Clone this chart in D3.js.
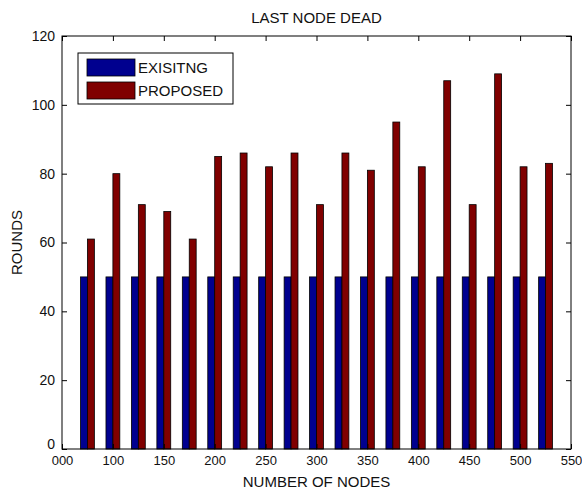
<!DOCTYPE html>
<html>
<head>
<meta charset="utf-8">
<script src="https://cdn.jsdelivr.net/npm/d3@7"></script>
<style>
  html, body { margin: 0; padding: 0; background: #fff; }
  svg { display: block; font-family: Arial, "Liberation Sans", sans-serif; }
</style>
</head>
<body>
<svg id="chart" width="582" height="490"></svg>
<script>
// ---- data ----
var nodes = [75, 100, 125, 150, 175, 200, 225, 250, 275, 300, 325, 350, 375, 400, 425, 450, 475, 500, 525];
var existing = [50, 50, 50, 50, 50, 50, 50, 50, 50, 50, 50, 50, 50, 50, 50, 50, 50, 50, 50];
var proposed = [61, 80, 71, 69, 61, 85, 86, 82, 86, 71, 86, 81, 95, 82, 107, 71, 109, 82, 83];
var xTicks = [50, 100, 150, 200, 250, 300, 350, 400, 450, 500, 550];
var xTickLabels = ['000', '100', '150', '200', '250', '300', '350', '400', '450', '500', '550'];
var yTicks = [0, 20, 40, 60, 80, 100, 120];
var seriesNames = ['EXISITNG', 'PROPOSED'];
var seriesColors = ['#00008f', '#800000'];

// ---- layout ----
var box = { left: 62, right: 571, top: 36, bottom: 449 };
var barUnits = 6.8; // width of one bar in x-data units

var svg = d3.select('#chart');

var x = d3.scaleLinear().domain([50, 550]).range([box.left, box.right]);
var y = d3.scaleLinear().domain([0, 120]).range([box.bottom, box.top]);

// bars
var barW = x(50 + barUnits) - x(50);
[existing, proposed].forEach(function (vals, s) {
    svg.append('g')
        .selectAll('rect')
        .data(nodes)
        .enter().append('rect')
        .attr('x', function (d) { return s === 0 ? x(d) - barW : x(d); })
        .attr('y', function (d, i) { return y(vals[i]); })
        .attr('width', barW)
        .attr('height', function (d, i) { return y(0) - y(vals[i]); })
        .attr('fill', seriesColors[s])
        .attr('stroke', '#000')
        .attr('stroke-width', 0.8);
});

// axes (MATLAB style: ticks inward on all four sides)
var tickLen = 5;
var gBottom = svg.append('g').attr('transform', 'translate(0,' + box.bottom + ')')
    .call(d3.axisBottom(x).tickValues(xTicks)
        .tickFormat(function (d, i) { return xTickLabels[i]; })
        .tickSizeInner(-tickLen).tickSizeOuter(0).tickPadding(8));
var gTop = svg.append('g').attr('transform', 'translate(0,' + box.top + ')')
    .call(d3.axisTop(x).tickValues(xTicks).tickFormat('')
        .tickSizeInner(-tickLen).tickSizeOuter(0));
var gLeft = svg.append('g').attr('transform', 'translate(' + box.left + ',0)')
    .call(d3.axisLeft(y).tickValues(yTicks)
        .tickSizeInner(-tickLen).tickSizeOuter(0).tickPadding(7));
var gRight = svg.append('g').attr('transform', 'translate(' + box.right + ',0)')
    .call(d3.axisRight(y).tickValues(yTicks).tickFormat('')
        .tickSizeInner(-tickLen).tickSizeOuter(0));

[gBottom, gTop, gLeft, gRight].forEach(function (g) {
    g.select('.domain').remove();
    g.selectAll('line').attr('stroke', '#000');
    g.selectAll('text').attr('fill', '#111').style('font-size', '14px')
        .style('font-family', 'Arial, "Liberation Sans", sans-serif');
});
gBottom.selectAll('text').attr('dy', '0.6em').style('font-size', '13px');
// the "0" sits just above the first x label, as in the original
gLeft.selectAll('.tick').filter(function (d) { return d === 0; })
    .select('text').attr('dy', '-0.05em');

// frame
svg.append('rect')
    .attr('x', box.left).attr('y', box.top)
    .attr('width', box.right - box.left).attr('height', box.bottom - box.top)
    .attr('fill', 'none').attr('stroke', '#000').attr('stroke-width', 1);

// title and axis labels
svg.append('text')
    .attr('x', (box.left + box.right) / 2).attr('y', 23)
    .attr('text-anchor', 'middle').style('font-size', '15px').attr('fill', '#111')
    .text('LAST NODE DEAD');

svg.append('text')
    .attr('x', (box.left + box.right) / 2).attr('y', 487)
    .attr('text-anchor', 'middle').style('font-size', '15px').attr('fill', '#111')
    .text('NUMBER OF NODES');

svg.append('text')
    .attr('transform', 'translate(22,' + (box.top + box.bottom) / 2 + ') rotate(-90)')
    .attr('text-anchor', 'middle').style('font-size', '15px').attr('fill', '#111')
    .text('ROUNDS');

// legend
var legend = svg.append('g').attr('transform', 'translate(78,53)');
legend.append('rect')
    .attr('width', 155).attr('height', 51)
    .attr('fill', '#fff').attr('stroke', '#000').attr('stroke-width', 1);
seriesNames.forEach(function (name, i) {
    legend.append('rect')
        .attr('x', 9).attr('y', 6 + i * 23)
        .attr('width', 48).attr('height', 17)
        .attr('fill', seriesColors[i]).attr('stroke', '#000').attr('stroke-width', 0.8);
    legend.append('text')
        .attr('x', 60).attr('y', 20 + i * 23)
        .style('font-size', '15px').attr('fill', '#111')
        .text(name);
});
</script>
</body>
</html>
